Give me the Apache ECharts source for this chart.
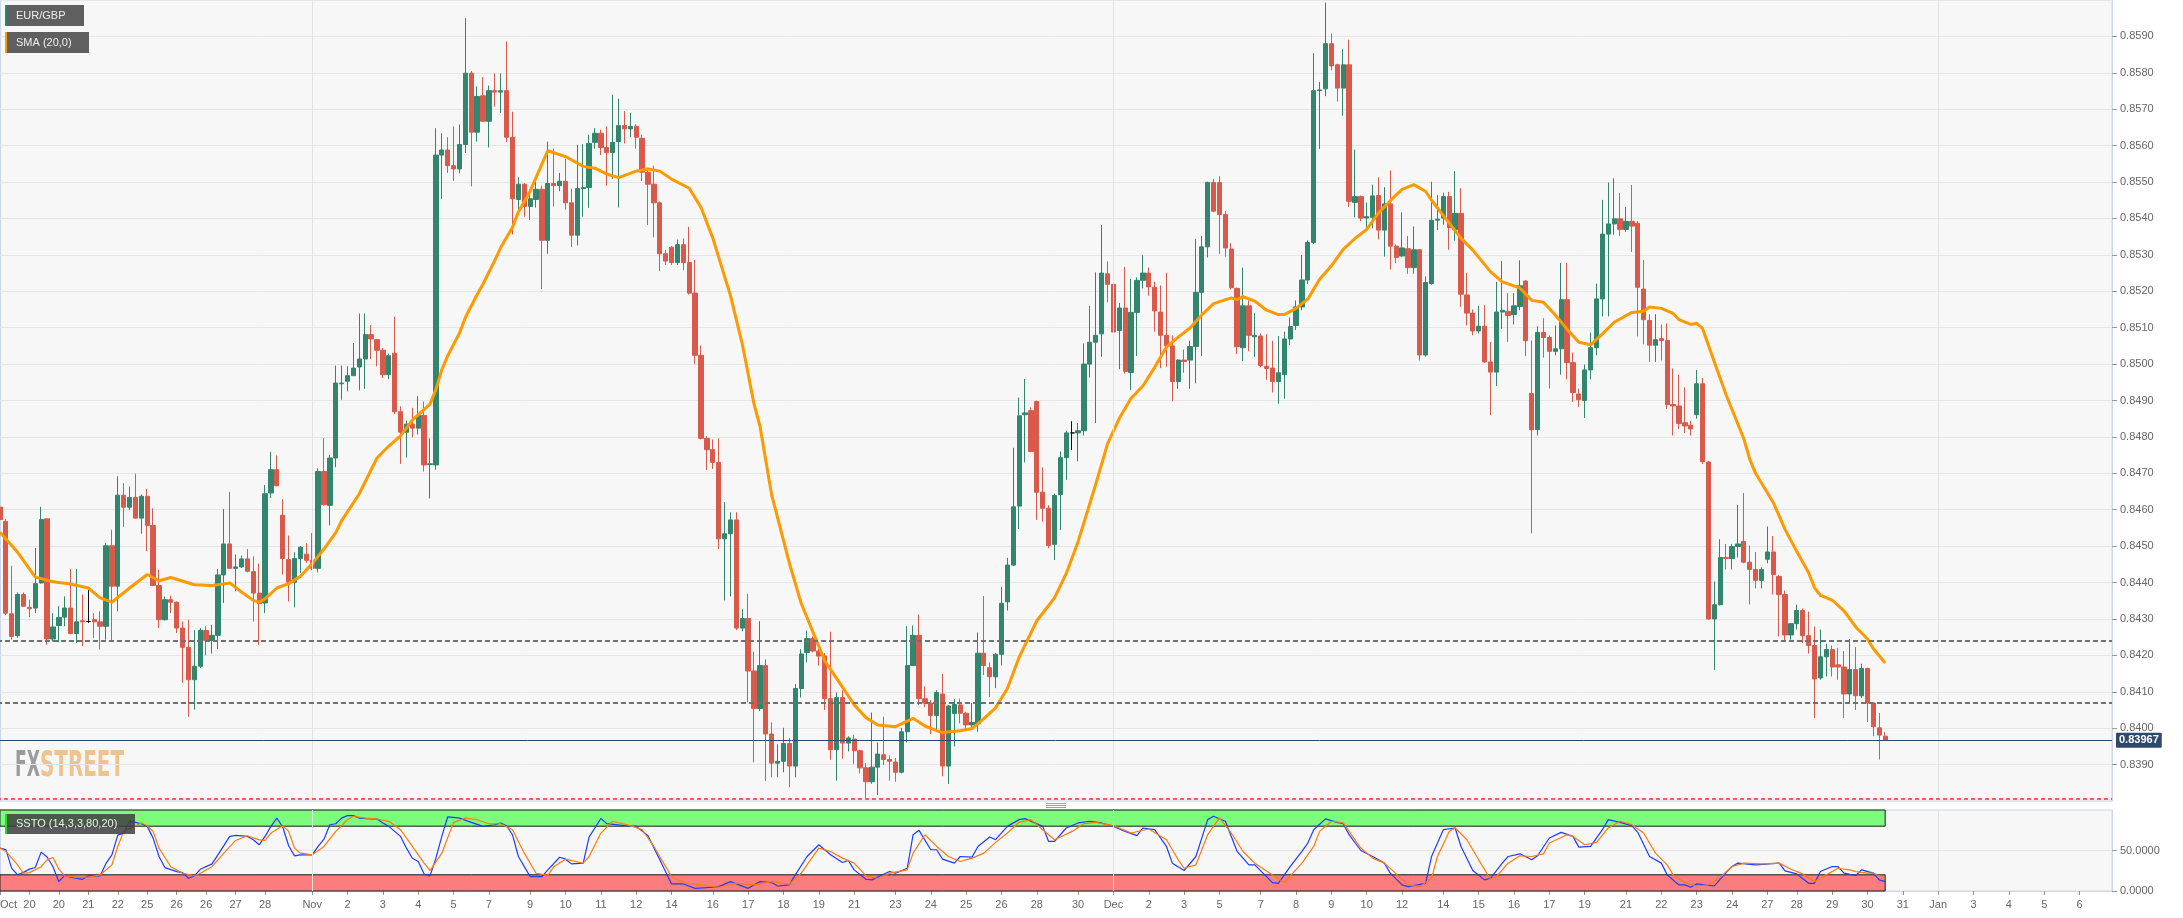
<!DOCTYPE html>
<html><head><meta charset="utf-8">
<script src="https://cdn.jsdelivr.net/npm/echarts@6/dist/echarts.min.js"></script>
<style>html,body{margin:0;padding:0;background:#fff}#c{width:2183px;height:918px}</style>
</head><body><div id="c"></div><script>
// ---------- DATA (EUR/GBP, 4h candles) ----------
const open = [.84607,.84568,.84314,.84254,.84367,.84332,.84330,.84399,.84575,.84245,.84282,.84305,.84330,.84260,.84295,.84293,.84298,.84292,.84280,.84501,.84390,.84640,.84607,.84634,.84577,.84637,.84557,.84392,.84298,.84353,.84346,.84275,.84222,.84133,.84170,.84268,.84241,.84255,.84421,.84506,.84439,.84443,.84465,.84430,.84371,.84344,.84646,.84710,.84585,.84463,.84401,.84466,.84478,.84461,.84439,.84705,.84612,.84742,.84946,.84953,.84968,.84992,.85014,.85081,.85067,.85038,.84971,.85030,.84869,.84813,.84835,.84824,.84859,.84724,.84723,.85574,.85588,.85545,.85536,.85603,.85799,.85637,.85737,.85667,.85751,.85747,.85751,.85623,.85452,.85494,.85433,.85452,.85480,.85340,.85496,.85490,.85502,.85443,.85354,.85482,.85485,.85609,.85634,.85595,.85581,.85611,.85655,.85646,.85653,.85620,.85527,.85494,.85443,.85303,.85321,.85279,.85328,.85279,.85195,.85024,.84796,.84765,.84730,.84520,.84534,.84572,.84275,.84301,.84157,.84054,.84172,.83984,.83904,.83909,.83958,.83896,.84109,.84208,.84246,.84212,.84198,.84081,.83941,.84084,.83959,.83970,.83938,.83891,.83853,.83893,.83927,.83914,.83907,.83879,.83990,.84172,.84255,.84081,.84069,.84035,.84094,.83896,.84040,.84064,.84041,.84009,.84012,.84206,.84166,.84141,.84203,.84347,.84448,.84610,.84861,.84872,.84897,.84648,.84604,.84505,.84642,.84743,.84811,.84811,.84817,.85000,.85060,.85083,.85248,.85219,.85092,.85154,.84977,.85142,.85230,.85250,.85211,.85143,.85079,.85050,.84952,.85011,.85011,.85048,.85197,.85322,.85499,.85499,.85411,.85316,.85208,.85045,.85160,.85075,.85077,.84994,.84989,.84952,.84971,.85069,.85106,.85157,.85231,.85334,.85751,.85756,.85880,.85822,.85758,.85822,.85444,.85460,.85401,.85403,.85463,.85368,.85440,.85324,.85297,.85317,.85265,.85314,.85025,.85221,.85395,.85401,.85460,.85369,.85414,.85190,.85140,.85091,.85104,.85006,.84978,.85143,.85145,.85136,.85158,.85228,.84919,.84820,.85087,.85073,.85035,.85042,.85177,.85004,.84918,.84900,.84984,.85045,.85179,.85357,.85385,.85399,.85370,.85392,.85387,.85206,.85120,.85052,.85070,.85065,.84889,.84885,.84839,.84832,.84861,.84946,.84731,.84300,.84339,.84469,.84466,.84499,.84513,.84456,.84436,.84406,.84464,.84484,.84417,.84367,.84256,.84287,.84323,.84254,.84227,.84138,.84196,.84216,.84174,.84168,.84094,.84161,.84089,.84164,.84069,.84001,.83978];
const close = [.84573,.84316,.84252,.84367,.84335,.84328,.84397,.84573,.84245,.84278,.84304,.84330,.84260,.84292,.84292,.84293,.84292,.84280,.84501,.84390,.84640,.84607,.84634,.84577,.84637,.84557,.84392,.84298,.84353,.84346,.84275,.84222,.84133,.84170,.84269,.84241,.84255,.84421,.84506,.84439,.84443,.84465,.84431,.84371,.84342,.84644,.84710,.84666,.84466,.84401,.84466,.84497,.84461,.84439,.84705,.84614,.84742,.84948,.84948,.84968,.84989,.85014,.85081,.85069,.85038,.84971,.85023,.84869,.84813,.84835,.84824,.84859,.84723,.84726,.85574,.85588,.85545,.85536,.85603,.85799,.85637,.85735,.85667,.85751,.85747,.85751,.85623,.85454,.85494,.85433,.85454,.85480,.85340,.85496,.85490,.85502,.85443,.85354,.85482,.85485,.85606,.85634,.85595,.85581,.85609,.85655,.85646,.85653,.85623,.85527,.85494,.85443,.85303,.85283,.85279,.85328,.85279,.85195,.85024,.84796,.84765,.84730,.84520,.84534,.84572,.84275,.84301,.84157,.84054,.84172,.83984,.83904,.83909,.83958,.83896,.84109,.84204,.84246,.84212,.84198,.84081,.83941,.84084,.83959,.83973,.83938,.83891,.83853,.83893,.83929,.83914,.83909,.83879,.83990,.84172,.84255,.84081,.84069,.84035,.84098,.83896,.84061,.84065,.84041,.84009,.84016,.84206,.84172,.84141,.84203,.84343,.84448,.84608,.84858,.84866,.84760,.84648,.84604,.84502,.84639,.84743,.84811,.84811,.84817,.85000,.85060,.85079,.85250,.85219,.85088,.85154,.84980,.85142,.85230,.85250,.85212,.85146,.85079,.85050,.84952,.85011,.85007,.85048,.85197,.85322,.85499,.85420,.85411,.85319,.85210,.85048,.85160,.85079,.85079,.84996,.84988,.84952,.84976,.85069,.85103,.85157,.85231,.85334,.85751,.85753,.85880,.85819,.85758,.85822,.85447,.85460,.85401,.85405,.85462,.85368,.85440,.85324,.85293,.85319,.85265,.85314,.85025,.85224,.85395,.85398,.85460,.85375,.85414,.85192,.85140,.85091,.85104,.85006,.84978,.85143,.85148,.85133,.85160,.85215,.85064,.84820,.85087,.85073,.85035,.85042,.85177,.85004,.84922,.84902,.84984,.85045,.85179,.85357,.85385,.85399,.85370,.85392,.85379,.85211,.85122,.85052,.85067,.85065,.84889,.84885,.84837,.84830,.84822,.84946,.84732,.84300,.84339,.84469,.84466,.84499,.84506,.84456,.84436,.84406,.84436,.84484,.84422,.84367,.84256,.84287,.84323,.84254,.84227,.84135,.84196,.84216,.84168,.84168,.84094,.84161,.84089,.84164,.84069,.84004,.83981,.83967];
const high = [.84635,.84575,.84446,.84373,.84373,.84353,.84495,.84608,.84575,.84316,.84335,.84362,.84437,.84437,.84367,.84380,.84316,.84321,.84509,.84545,.84692,.84673,.84664,.84699,.84642,.84657,.84604,.84435,.84362,.84364,.84348,.84293,.84298,.84269,.84275,.84280,.84284,.84437,.84602,.84649,.84477,.84474,.84492,.84472,.84452,.84668,.84759,.84749,.84629,.84529,.84483,.84500,.84508,.84536,.84714,.84797,.84751,.84996,.84996,.84994,.85058,.85139,.85139,.85107,.85069,.85044,.85029,.85130,.84884,.84845,.84880,.84912,.84897,.84796,.85648,.85634,.85623,.85653,.85658,.85950,.85805,.85763,.85788,.85765,.85798,.85798,.85886,.85693,.85513,.85497,.85469,.85504,.85490,.85611,.85592,.85525,.85564,.85482,.85602,.85604,.85630,.85648,.85644,.85653,.85740,.85729,.85695,.85690,.85659,.85630,.85539,.85545,.85447,.85314,.85324,.85342,.85345,.85377,.85286,.85051,.84802,.84793,.84796,.84621,.84593,.84593,.84327,.84369,.84210,.84294,.84189,.84016,.83956,.84001,.83973,.84121,.84217,.84268,.84252,.84223,.84206,.84265,.84098,.84104,.83978,.83982,.83941,.83904,.84043,.83961,.84032,.83925,.83918,.84001,.84280,.84282,.84312,.84115,.84077,.84104,.84149,.84064,.84080,.84081,.84045,.84070,.84263,.84363,.84181,.84206,.84388,.84468,.84770,.84908,.84959,.84881,.84900,.84716,.84612,.84644,.84760,.84817,.84843,.84838,.85057,.85160,.85252,.85382,.85282,.85236,.85168,.85267,.85234,.85238,.85299,.85265,.85226,.85216,.85251,.85079,.85013,.85040,.85064,.85344,.85352,.85501,.85509,.85516,.85420,.85332,.85210,.85265,.85175,.85140,.85084,.85082,.85064,.85077,.85089,.85128,.85175,.85300,.85340,.85854,.85775,.85993,.85908,.85825,.85865,.85891,.85589,.85463,.85444,.85493,.85513,.85486,.85532,.85329,.85417,.85352,.85378,.85316,.85241,.85501,.85464,.85471,.85473,.85530,.85483,.85251,.85150,.85160,.85162,.85061,.85226,.85283,.85195,.85195,.85285,.85231,.85065,.85104,.85126,.85079,.85106,.85278,.85278,.85032,.84933,.84999,.85087,.85221,.85451,.85499,.85510,.85470,.85432,.85492,.85393,.85286,.85137,.85137,.85109,.85112,.84988,.84971,.84936,.84844,.84984,.84962,.84734,.84403,.84519,.84506,.84506,.84613,.84646,.84502,.84484,.84442,.84554,.84528,.84420,.84378,.84289,.84339,.84329,.84320,.84279,.84271,.84232,.84227,.84221,.84212,.84245,.84223,.84177,.84166,.84072,.84042,.83989];
const low = [.84509,.84310,.84243,.84248,.84333,.84305,.84316,.84397,.84229,.84238,.84236,.84280,.84258,.84234,.84225,.84289,.84248,.84216,.84243,.84238,.84321,.84553,.84600,.84575,.84534,.84486,.84390,.84275,.84296,.84316,.84261,.84124,.84031,.84051,.84165,.84200,.84205,.84217,.84344,.84437,.84376,.84440,.84428,.84293,.84229,.84316,.84632,.84664,.84422,.84348,.84332,.84426,.84454,.84434,.84428,.84611,.84557,.84717,.84902,.84925,.84968,.84928,.84932,.85014,.84994,.84962,.84959,.84863,.84726,.84743,.84799,.84807,.84705,.84631,.84710,.85454,.85525,.85503,.85524,.85580,.85488,.85611,.85665,.85595,.85707,.85690,.85610,.85356,.85412,.85405,.85396,.85430,.85206,.85303,.85433,.85475,.85424,.85321,.85326,.85405,.85429,.85592,.85574,.85490,.85508,.85430,.85606,.85623,.85592,.85503,.85382,.85348,.85255,.85272,.85272,.85272,.85258,.85191,.85000,.84793,.84709,.84712,.84492,.84351,.84362,.84269,.84266,.84070,.83906,.84047,.83855,.83865,.83865,.83879,.83838,.83865,.84084,.84181,.84208,.84172,.84050,.83913,.83856,.83916,.83936,.83902,.83876,.83808,.83847,.83816,.83899,.83856,.83853,.83876,.83961,.84172,.84064,.84058,.83984,.83990,.83868,.83847,.83950,.84013,.83995,.84001,.83990,.84146,.84085,.84110,.84172,.84323,.84445,.84547,.84730,.84758,.84572,.84567,.84494,.84462,.84544,.84682,.84764,.84733,.84804,.84963,.84838,.85020,.85170,.85082,.84986,.84974,.84929,.85022,.85208,.85188,.85089,.84989,.84993,.84898,.84932,.84976,.84932,.84947,.85022,.85293,.85417,.85303,.85295,.85205,.85028,.85008,.85035,.85020,.84991,.84957,.84922,.84891,.84905,.85052,.85094,.85148,.85220,.85330,.85591,.85736,.85807,.85721,.85682,.85432,.85403,.85393,.85373,.85373,.85342,.85295,.85260,.85277,.85295,.85248,.85248,.85010,.85020,.85218,.85368,.85383,.85314,.85339,.85157,.85106,.85079,.85084,.85003,.84860,.84940,.85097,.85061,.85109,.85148,.85022,.84535,.84804,.85018,.84933,.85024,.84971,.84958,.84896,.84883,.84852,.84958,.85024,.85131,.85131,.85355,.85352,.85363,.85308,.85076,.85054,.85006,.85006,.85010,.84877,.84804,.84822,.84811,.84804,.84850,.84726,.84298,.84160,.84337,.84436,.84436,.84469,.84453,.84340,.84384,.84384,.84453,.84367,.84252,.84241,.84243,.84271,.84234,.84205,.84028,.84133,.84142,.84142,.84133,.84028,.84069,.84050,.84083,.84017,.83978,.83914,.83965];

// SMA(20,0) at candle positions
const smaIdx = [0,3,6,9,12,15,17,19,22,25,27,29,33,36,39,41,43,44,45,47,49,51,53,55,57,58,61,64,66,68,70,73,74,75,76,78,79,81,82,84,85,87,88,90,92,93,96,99,101,103,105,108,110,112,114,117,119,121,124,126,128,129,131,134,136,138,140,143,145,147,149,152,155,157,159,160,163,165,167,169,171,173,176,179,181,183,186,188,190,192,194,196,198,200,202,204,206,209,210,211,213,215,217,218,220,222,224,226,228,230,232,234,237,238,240,242,243,246,248,250,253,255,258,260,262,264,266,268,270,272,274,277,279,280,282,284,285,287,288,289,291,293,296,297,298,301,303,305,307,308,309,311,313,315,317,318,320];
const smaVal = [.84538,.84483,.84415,.84402,.84396,.84385,.84358,.84346,.84385,.84422,.84405,.84414,.84394,.84392,.84399,.84374,.84351,.84346,.84355,.84385,.84397,.84417,.84452,.84492,.84537,.84570,.84644,.84742,.84775,.84803,.84846,.84890,.84930,.84985,.85023,.85085,.85128,.85191,.85220,.85285,.85320,.85376,.85418,.85475,.85550,.85586,.85570,.85543,.85538,.85522,.85512,.85530,.85536,.85530,.85508,.85483,.85430,.85346,.85188,.85055,.84890,.84830,.84640,.84453,.84343,.84264,.84185,.84113,.84064,.84029,.84009,.84004,.84027,.84006,.83993,.83988,.83993,.83999,.84026,.84056,.84109,.84195,.84295,.84358,.84425,.84512,.84670,.84781,.84851,.84906,.84940,.84991,.85047,.85074,.85099,.85135,.85166,.85182,.85177,.85185,.85173,.85148,.85136,.85136,.85153,.85179,.85233,.85270,.85315,.85345,.85370,.85415,.85465,.85480,.85493,.85474,.85450,.85387,.85346,.85313,.85254,.85226,.85209,.85175,.85170,.85135,.85096,.85060,.85053,.85083,.85115,.85142,.85145,.85157,.85153,.85139,.85122,.85109,.85112,.85098,.85006,.84915,.84795,.84739,.84700,.84620,.84546,.84485,.84427,.84386,.84365,.84352,.84322,.84278,.84245,.84218,.84179];

// Slow stochastic (14,3,3): %K (blue) and %D (orange)
const kIdx = [0,1,2,3,4,5,6,7,8,9,10,11,12,14,15,17,18,19,20,21,22,23,24,25,26,27,28,30,31,32,33,34,36,37,39,40,42,43,44,45,46,47,48,49,50,51,53,54,55,56,57,58,59,60,61,63,64,65,66,68,69,70,71,72,73,74,75,76,77,78,80,82,84,85,86,87,88,90,92,93,95,96,97,99,100,102,103,106,108,110,112,114,116,118,121,122,124,127,129,131,132,134,135,137,139,141,143,144,145,147,148,151,152,154,155,156,158,159,160,162,163,165,166,168,169,171,173,174,177,178,179,181,183,185,187,189,191,193,194,196,198,199,201,203,205,206,208,210,212,213,216,217,219,221,222,223,225,227,228,229,231,233,235,236,238,239,242,243,245,247,248,250,252,253,255,256,258,260,261,263,265,267,268,270,272,273,275,277,278,280,282,283,285,286,287,288,291,293,294,295,298,302,303,305,307,308,309,311,312,313,315,316,318,319,320];
const kVal = [53,51,28,20,23,27,29,48,42,30,11.5,19.4,17,14.4,18.6,18.6,34,44.6,69,71.5,86,84.7,83,79.8,65.3,42.6,28.9,24,22.7,15.7,18.6,26.8,33.5,44.6,67.4,68.6,67.4,63.2,57,67.4,79.8,90,79,55.8,43.4,44.6,44.6,55,64,81.8,83,90,93,93,90,88.9,88.9,83.9,79.8,67.4,52.9,40.5,36.4,21,18.6,40.5,67.4,91.4,91,90,84.7,79.8,81.8,83.9,80.6,69.4,42.6,17.7,17.7,26,41.7,39.3,33.5,34.3,66.5,89.5,83.2,80.7,79.8,68.3,38.5,8.7,8.7,3.3,4.6,5.4,11.6,3.3,11.6,10.4,6.2,7.5,19.9,42.6,57.1,44.7,35.2,37.7,26.1,14.5,13.7,24,22,28.1,69.5,74.9,50.9,50.9,39.3,34.4,42.6,41.8,55,66.6,63.3,79.8,88.1,89.4,79.8,61.2,61.2,77.8,84,86.1,84,79.8,73.6,68.3,77.8,75.7,55,34.4,25.3,42.6,88.1,92.3,86.1,48.8,32.3,32.3,10.4,9.5,30.2,49,59.2,75.7,89,84.8,83.2,69.5,50,42.6,34.4,22,7.5,5.4,9.5,42.6,75.7,77.8,55,25.3,13.7,15.7,34.4,42.6,45.9,38.5,43.5,65.4,72.4,67.4,54.2,55,75.7,88.1,84.8,80.7,72.4,42.6,34.4,19.9,7.5,7.5,4.6,8.7,6.2,22.8,30.2,34.4,32.3,34.4,24.8,21.1,9.5,9.5,24,30.2,30.2,22,19.1,26.1,22,13.7,11.6];
const dIdx = [0,1,3,4,5,7,8,9,10,11,13,15,17,19,20,21,24,25,26,27,29,31,33,34,36,38,40,42,44,45,46,48,49,50,51,53,55,57,59,60,62,64,66,68,70,72,73,75,77,79,81,83,85,87,89,91,93,94,96,99,100,102,104,107,109,111,114,116,119,122,125,128,131,134,136,139,141,143,145,147,149,151,154,155,157,159,161,163,165,167,169,171,173,175,177,179,182,184,186,189,192,195,198,200,201,203,205,207,209,211,213,216,218,221,223,224,226,228,229,231,233,235,237,239,241,243,244,246,247,249,251,253,254,256,258,260,262,263,266,267,269,271,273,275,277,279,281,283,284,286,288,290,292,294,296,299,302,304,306,308,310,312,314,315,317,318,320];
const dVal = [53,48.8,32.2,21.9,22.7,30,38.4,41.3,26.8,18.6,17,17,19.8,32.2,55,73.6,83.9,80.6,73.6,52.9,30,21.9,18.6,21.9,30,46.7,62.4,68.2,63.2,62.4,71.5,80.6,73.6,52.9,46.7,44.6,55,73.6,88,92.2,90,88.9,86,75.6,55,34.3,25.2,46.7,84.7,90,88,83,83,75.6,46.7,21.9,19.4,30,39.3,34.3,42.6,71.5,86.1,80.7,75.7,55,17.8,10.4,7.5,4.6,9.5,7.5,11.6,8.3,22,53,48.8,40.6,34.4,18.6,15.7,22,26.1,46.8,69.5,55,42.6,36.4,40.6,46.8,60,71.6,84.8,88.1,75.7,63.3,73.6,83.2,84.8,80.7,71.6,76.5,63.3,38.5,28.1,32.3,69.5,90.2,71.6,48.8,34.4,19.9,10.4,34.4,55,73.6,86.1,84,73.6,53,40.6,34.4,21.1,7.5,5.4,15.7,42.6,73.6,77.8,63.3,38.5,14.5,17.8,34.4,43.5,42.6,45.9,59.2,69.5,67.4,57.1,60,77.8,86.1,81.9,71.6,46.8,32.3,19.9,10.4,6.2,7.5,17,30.2,34.4,33.5,34.4,26.9,21.1,11.6,19.9,28.1,26.1,24,22,22,15.7];

// Horizontal levels
const lastPrice = 0.83967;
const resistanceLevels = [0.84241, 0.84071];
const supportLevel = 0.83805;
const obLevel = 80, osLevel = 20;

// X axis ticks (candle slot index -> label)
const tickIdx = [0,5,10,15,20,25,30,35,40,45,53,59,65,71,77,83,90,96,102,108,114,121,127,133,139,145,152,158,164,170,176,183,189,195,201,207,214,220,226,232,238,245,251,257,263,269,276,282,288,294,300,305,311,317,323,329,335,341,347,353];
const tickText = ['Oct','20','20','21','22','25','26','26','27','28','Nov','2','3','4','5','7','9','10','11','12','14','16','17','18','19','21','23','24','25','26','28','30','Dec','2','3','5','7','8','9','10','12','14','15','16','17','19','21','22','23','24','27','28','29','30','31','Jan','3','4','5','6'];
const monthIdx = [53, 189, 329];
const SLOT_COUNT = 359;

// ---------- BUILD ----------
const slots = []; for (let i = 0; i < SLOT_COUNT; i++) slots.push(String(i));
const labelMap = {}; tickIdx.forEach((t, i) => labelMap[t] = tickText[i]);
const isTick = (i) => labelMap[i] !== undefined;
const candles = open.map((o, i) => [o, close[i], low[i], high[i]]);
const sma = smaIdx.map((x, i) => [x, smaVal[i]]);
const kLine = kIdx.map((x, i) => [x, kVal[i]]);
const dLine = dIdx.map((x, i) => [x, dVal[i]]);
const lastIdx = open.length - 1;

const FONT = '"Liberation Sans", Arial, sans-serif';
const UP = '#31866d', DOWN = '#d95a4b';

function measure(text, font) {
  const c = document.createElement('canvas').getContext('2d');
  c.font = font; return c.measureText(text).width;
}
const wmFont = 'bold 36px "DejaVu Sans Condensed", "DejaVu Sans", sans-serif';
const fxW = measure('FX', wmFont), stW = measure('STREET', wmFont);

const chart = echarts.init(document.getElementById('c'), null, {renderer: 'canvas'});
chart.setOption({
  animation: false,
  backgroundColor: '#ffffff',
  grid: [
    {left: -3, top: 0, width: 2115, height: 801, show: true, backgroundColor: '#f7f7f7', borderColor: '#ccd6eb', borderWidth: 1, containLabel: false, outerBoundsMode: 'none'},
    {left: -3, top: 810, width: 2115, height: 81, show: true, backgroundColor: '#f7f7f7', borderColor: '#ccd6eb', borderWidth: 1, containLabel: false, outerBoundsMode: 'none'}
  ],
  xAxis: [
    {type: 'category', gridIndex: 0, data: slots, boundaryGap: true,
     axisLine: {show: false}, axisTick: {show: false}, axisLabel: {show: false}, splitLine: {show: false}},
    {type: 'category', gridIndex: 1, data: slots, boundaryGap: true,
     axisLine: {show: true, lineStyle: {color: '#ccd6eb'}},
     axisTick: {show: true, alignWithLabel: true, interval: (i) => isTick(i), length: 4, lineStyle: {color: '#999'}},
     axisLabel: {show: true, interval: (i) => isTick(i), formatter: (v, i) => labelMap[i] || '',
                 color: '#666', fontSize: 11, fontFamily: FONT, margin: 8, alignMinLabel: 'left'},
     splitLine: {show: false}}
  ],
  yAxis: [
    {type: 'value', gridIndex: 0, position: 'right', min: 0.838, max: 0.860, interval: 0.001,
     axisLine: {show: true, lineStyle: {color: '#ccd6eb'}},
     axisTick: {show: true, length: 5, lineStyle: {color: '#999'}},
     axisLabel: {color: '#666', fontSize: 11, fontFamily: FONT, margin: 8, showMinLabel: false, showMaxLabel: false,
                 formatter: (v) => v.toFixed(4)},
     splitLine: {show: true, lineStyle: {color: '#e6e6e6', width: 1}}},
    {type: 'value', gridIndex: 1, position: 'right', min: 0, max: 100, interval: 50,
     axisLine: {show: true, lineStyle: {color: '#ccd6eb'}},
     axisTick: {show: true, length: 5, lineStyle: {color: '#999'}},
     axisLabel: {color: '#666', fontSize: 11, fontFamily: FONT, margin: 8, showMaxLabel: false,
                 formatter: (v) => v.toFixed(4)},
     splitLine: {show: true, lineStyle: {color: '#e6e6e6', width: 1}}}
  ],
  series: [
    {type: 'line', xAxisIndex: 0, yAxisIndex: 0, data: [], z: 1, silent: true,
     markLine: {silent: true, symbol: ['none', 'none'], label: {show: false},
                lineStyle: {color: '#e3e3e3', type: 'solid', width: 1},
                data: monthIdx.map(m => ({xAxis: m}))}},
    {type: 'line', xAxisIndex: 1, yAxisIndex: 1, data: [], z: 1, silent: true,
     markLine: {silent: true, symbol: ['none', 'none'], label: {show: false},
                lineStyle: {color: '#e3e3e3', type: 'solid', width: 1},
                data: monthIdx.map(m => ({xAxis: m}))},
     markArea: {silent: true, data: [
        [{xAxis: 0, yAxis: obLevel, itemStyle: {color: '#7dfb7d', borderColor: '#1a1a1a', borderWidth: 1}}, {xAxis: lastIdx, yAxis: 100}],
        [{xAxis: 0, yAxis: 0, itemStyle: {color: '#fb7d7d', borderColor: '#1a1a1a', borderWidth: 1}}, {xAxis: lastIdx, yAxis: osLevel}]
     ]}},
    {name: 'EUR/GBP', type: 'candlestick', xAxisIndex: 0, yAxisIndex: 0, data: candles, z: 2,
     barWidth: 4.8,
     itemStyle: {color: UP, color0: DOWN, borderColor: UP, borderColor0: DOWN, borderColorDoji: '#111', borderWidth: 1},
     markLine: {silent: true, symbol: ['none', 'none'], precision: 5,
       data: [
         {yAxis: resistanceLevels[0], lineStyle: {color: '#707070', type: [5, 3], width: 2}, label: {show: false}},
         {yAxis: resistanceLevels[1], lineStyle: {color: '#707070', type: [5, 3], width: 2}, label: {show: false}},
         {yAxis: supportLevel, lineStyle: {color: '#ff2a2a', type: [4, 3], width: 1.5}, label: {show: false}},
         {yAxis: lastPrice, lineStyle: {color: '#2c4770', type: 'solid', width: 1},
          label: {show: true, position: 'end', distance: 4, formatter: lastPrice.toFixed(5),
                  color: '#fff', fontWeight: 'bold', fontSize: 11, fontFamily: FONT,
                  backgroundColor: '#2d4a6d', padding: [2, 3, 2, 3], borderRadius: 1}}
       ]}},
    {name: 'SMA (20,0)', type: 'line', xAxisIndex: 0, yAxisIndex: 0, data: sma, z: 3,
     showSymbol: false, symbol: 'none', smooth: false, lineStyle: {color: '#ff9900', width: 3}, silent: true},
    {name: '%K', type: 'line', xAxisIndex: 1, yAxisIndex: 1, data: kLine, z: 3,
     showSymbol: false, symbol: 'none', lineStyle: {color: '#1c3cff', width: 1.2}, silent: true},
    {name: '%D', type: 'line', xAxisIndex: 1, yAxisIndex: 1, data: dLine, z: 3,
     showSymbol: false, symbol: 'none', lineStyle: {color: '#ff7a0a', width: 1.2}, silent: true}
  ],
  graphic: [
    // left borders of the two panes
    {type: 'line', shape: {x1: 0.5, y1: 0, x2: 0.5, y2: 801}, style: {stroke: '#ccd6eb', lineWidth: 1}, silent: true},
    {type: 'line', shape: {x1: 0.5, y1: 810, x2: 0.5, y2: 891}, style: {stroke: '#ccd6eb', lineWidth: 1}, silent: true},
    // series tags
    {type: 'rect', shape: {x: 5, y: 5, width: 79, height: 21}, style: {fill: '#5f5f5f'}, z: 100},
    {type: 'rect', shape: {x: 5, y: 5, width: 2, height: 21}, style: {fill: '#2c8a70'}, z: 101},
    {type: 'text', x: 16, y: 15.5, z: 102, style: {text: 'EUR/GBP', fill: '#eeeeee', font: '11px ' + FONT, textVerticalAlign: 'middle', verticalAlign: 'middle'}},
    {type: 'rect', shape: {x: 5, y: 32, width: 84, height: 21}, style: {fill: '#5f5f5f'}, z: 100},
    {type: 'rect', shape: {x: 5, y: 32, width: 2, height: 21}, style: {fill: '#ff9900'}, z: 101},
    {type: 'text', x: 16, y: 42.5, z: 102, style: {text: 'SMA (20,0)', fill: '#eeeeee', font: '11px ' + FONT, textVerticalAlign: 'middle', verticalAlign: 'middle'}},
    {type: 'rect', shape: {x: 5, y: 814, width: 130, height: 20}, style: {fill: 'rgba(62,62,62,0.85)'}, z: 100},
    {type: 'rect', shape: {x: 5, y: 814, width: 2, height: 20}, style: {fill: '#22dd22'}, z: 101},
    {type: 'text', x: 16, y: 824, z: 102, style: {text: 'SSTO (14,3,3,80,20)', fill: '#eeeeee', font: '11px ' + FONT, textVerticalAlign: 'middle', verticalAlign: 'middle'}},
    // watermark
    {type: 'text', x: 15, y: 767, scaleX: 25 / fxW, z: 0, style: {text: 'FX', fill: '#9b9b9b', font: wmFont, textVerticalAlign: 'middle', verticalAlign: 'middle'}},
    {type: 'text', x: 40, y: 767, scaleX: 84 / stW, z: 0, style: {text: 'STREET', fill: '#efc38d', font: wmFont, textVerticalAlign: 'middle', verticalAlign: 'middle'}},
    // pane splitter handle
    {type: 'line', shape: {x1: 1046, y1: 803.5, x2: 1066, y2: 803.5}, style: {stroke: '#a0a0a0', lineWidth: 1}},
    {type: 'line', shape: {x1: 1046, y1: 805.5, x2: 1066, y2: 805.5}, style: {stroke: '#a0a0a0', lineWidth: 1}},
    {type: 'line', shape: {x1: 1046, y1: 807.5, x2: 1066, y2: 807.5}, style: {stroke: '#a0a0a0', lineWidth: 1}}
  ]
});
</script></body></html>
